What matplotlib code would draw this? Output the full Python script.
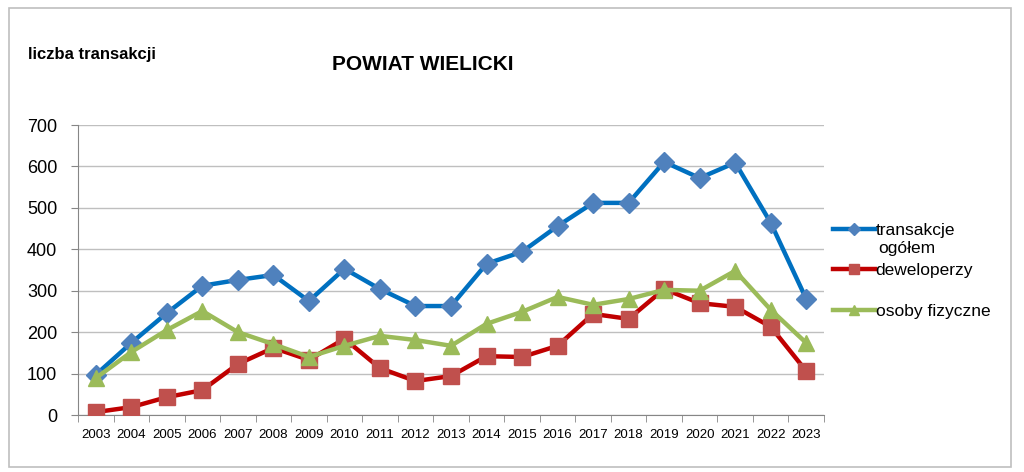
import matplotlib
matplotlib.use("Agg")
import matplotlib.pyplot as plt
from matplotlib.lines import Line2D
from matplotlib.patches import Rectangle

plt.rcParams['font.family'] = ['Liberation Sans', 'DejaVu Sans']

years = [str(y) for y in range(2003, 2024)]
transakcje_ogolem = [97, 174, 246, 312, 326, 338, 275, 353, 304, 263, 263,
                     365, 394, 456, 512, 512, 611, 572, 609, 464, 280]
deweloperzy = [7, 19, 43, 60, 123, 162, 133, 184, 113, 82, 94,
               142, 140, 167, 244, 232, 304, 270, 261, 213, 106]
osoby_fizyczne = [89, 152, 205, 251, 200, 171, 140, 167, 191, 181, 167,
                  220, 249, 285, 266, 280, 302, 300, 348, 254, 174]
y_ticks = [0, 100, 200, 300, 400, 500, 600, 700]

fig = plt.figure(figsize=(10.24, 4.72), dpi=100)
fig.patch.set_facecolor('white')
fig.add_artist(Rectangle((9/1024, 1 - 467/472), 1002/1024, 459/472,
                         transform=fig.transFigure, fill=False,
                         edgecolor='#bfbfbf', linewidth=1.2))

ax = fig.add_axes([78/1024, 1 - 415/472, 746/1024, 290/472])
x = list(range(len(years)))

ax.plot(x, transakcje_ogolem, color='#0070C0', lw=3.2, marker='D', ms=10,
        mfc='#4F81BD', mec='#4F81BD', zorder=3)
ax.plot(x, deweloperzy, color='#C00000', lw=3.2, marker='s', ms=11.5,
        mfc='#C0504D', mec='#C0504D', zorder=4)
ax.plot(x, osoby_fizyczne, color='#9BBB59', lw=3.2, marker='^', ms=12,
        mfc='#9BBB59', mec='#9BBB59', zorder=5)

ax.set_xlim(-0.5, len(years) - 0.5)
ax.set_ylim(0, 700)
ax.set_yticks(y_ticks)
ax.set_yticklabels([str(v) for v in y_ticks], fontsize=13)
ax.set_xticks(x)
ax.set_xticklabels(years, fontsize=9.5)
ax.set_xticks([i - 0.5 for i in range(len(years) + 1)], minor=True)
ax.tick_params(axis='x', which='major', length=0, pad=10)
ax.tick_params(axis='x', which='minor', length=5, color='#868686', direction='out')
ax.tick_params(axis='y', length=5, color='#868686', direction='out', pad=10)
ax.grid(axis='y', color='#bfbfbf', lw=1)
ax.set_axisbelow(True)
for s in ['top', 'right']:
    ax.spines[s].set_visible(False)
for s in ['left', 'bottom']:
    ax.spines[s].set_color('#868686')

fig.text(28/1024, 1 - 55/472, 'liczba transakcji', fontsize=12,
         fontweight='bold', va='center', ha='left')
fig.text(423/1024, 1 - 64/472, 'POWIAT WIELICKI', fontsize=15,
         fontweight='bold', va='center', ha='center')

handles = [
    Line2D([], [], color='#0070C0', lw=3.2, marker='D', ms=6.5, mfc='#4F81BD', mec='#4F81BD'),
    Line2D([], [], color='#C00000', lw=3.2, marker='s', ms=7.5, mfc='#C0504D', mec='#C0504D'),
    Line2D([], [], color='#9BBB59', lw=3.2, marker='^', ms=7.5, mfc='#9BBB59', mec='#9BBB59'),
]
labels = ['transakcje', 'deweloperzy', 'osoby fizyczne']
legend_y = [230, 270, 311]
for h, lab, yy in zip(handles, labels, legend_y):
    fig.legend([h], [lab], loc='center left',
               bbox_to_anchor=(833/1024, 1 - yy/472), frameon=False,
               fontsize=12.5, handlelength=2.4, handletextpad=0.05,
               borderaxespad=0, borderpad=0)
fig.text(878/1024, 1 - 249/472, 'ogółem', fontsize=12.5, va='center', ha='left')

fig.savefig('out.png', dpi=100)
